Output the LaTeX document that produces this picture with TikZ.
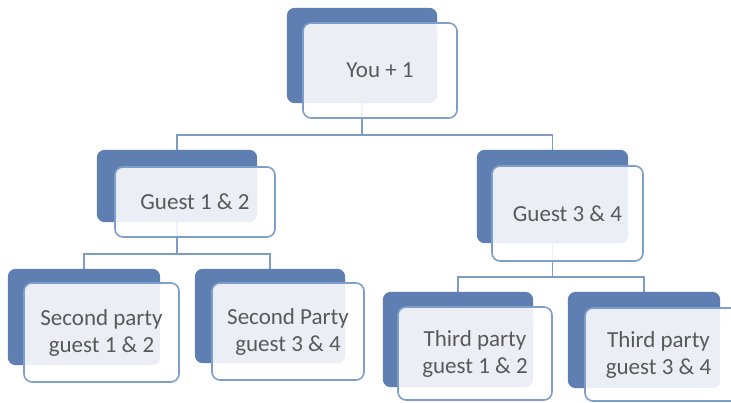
\documentclass[tikz,border=0pt]{standalone}
\usepackage{fontspec}
\setmainfont{Carlito}
\usetikzlibrary{fit}
\definecolor{dkblue}{HTML}{5F7FB2}
\definecolor{ltblue}{HTML}{7E9ECB}
\definecolor{connblue}{HTML}{7F9CC6}
\definecolor{txtgray}{HTML}{595959}
\tikzset{
  darkbox/.style={fill=dkblue, rounded corners=8pt, inner sep=0pt, outer sep=0pt},
  lightbox/.style={draw=ltblue, line width=1.6pt, fill=white, fill opacity=0.88, rounded corners=8pt, inner sep=0pt, outer sep=0pt},
  lbl/.style={text=txtgray, align=center, font=\fontsize{23}{27}\selectfont, inner sep=0pt},
  conn/.style={draw=connblue, line width=1.8pt},
}
\begin{document}
\begin{tikzpicture}[x=1pt,y=-1pt]
\useasboundingbox (0,0) rectangle (731,403);
\clip (0,0) rectangle (731,403);
% junction levels
\coordinate (j0) at (362,135);
\coordinate (j1) at (177,254);
\coordinate (j2) at (551,277);
% dark boxes (positions only, drawn later)
\path
  node[fit={(287,8)(437,103)}, inner sep=0pt] (d0) {}
  node[fit={(97,150)(257,222)}, inner sep=0pt] (d1) {}
  node[fit={(477,150)(628,243)}, inner sep=0pt] (d2) {}
  node[fit={(8,269)(160,365)}, inner sep=0pt] (d3) {}
  node[fit={(195,269)(345,363)}, inner sep=0pt] (d4) {}
  node[fit={(383,292)(533,387)}, inner sep=0pt] (d5) {}
  node[fit={(568,292)(720,388)}, inner sep=0pt] (d6) {};
% connectors
\draw[conn] (d0.south) -- (d0.south |- j0) -| (d1.north);
\draw[conn] (d0.south |- j0) -| (d2.north);
\draw[conn] (d1.south) -- (d1.south |- j1) -| (d3.north);
\draw[conn] (d1.south |- j1) -| (d4.north);
\draw[conn] (d2.south) -- (d2.south |- j2) -| (d5.north);
\draw[conn] (d2.south |- j2) -| (d6.north);
% dark boxes
\foreach \n in {d0,d1,d2,d3,d4,d5,d6}
  \fill[dkblue, rounded corners=8pt] (\n.north west) rectangle (\n.south east);
% light boxes
\node[lightbox, fit={(303,23)(457,118)}] (l0) {};
\node[lightbox, fit={(115,167)(275,237)}] (l1) {};
\node[lightbox, fit={(492,166)(643,261)}] (l2) {};
\node[lightbox, fit={(24,283)(179,382)}] (l3) {};
\node[lightbox, fit={(212,283)(364,380)}] (l4) {};
\node[lightbox, fit={(398,307)(552,400)}] (l5) {};
\node[lightbox, fit={(585,308)(740,401)}] (l6) {};
% texts
\node[lbl] (t0) at (l0) {You + 1};
\node[lbl] (t1) at (l1) {Guest 1 \& 2};
\node[lbl] (t2) at (l2) {Guest 3 \& 4};
\node[lbl] (t3) at (l3) {Second party\\guest 1 \& 2};
\node[lbl] (t4) at (l4) {Second Party\\guest 3 \& 4};
\node[lbl] (t5) at (l5) {Third party\\guest 1 \& 2};
\node[lbl] (t6) at ([xshift=-4pt]l6.center) {Third party\\guest 3 \& 4};
\end{tikzpicture}
\end{document}
